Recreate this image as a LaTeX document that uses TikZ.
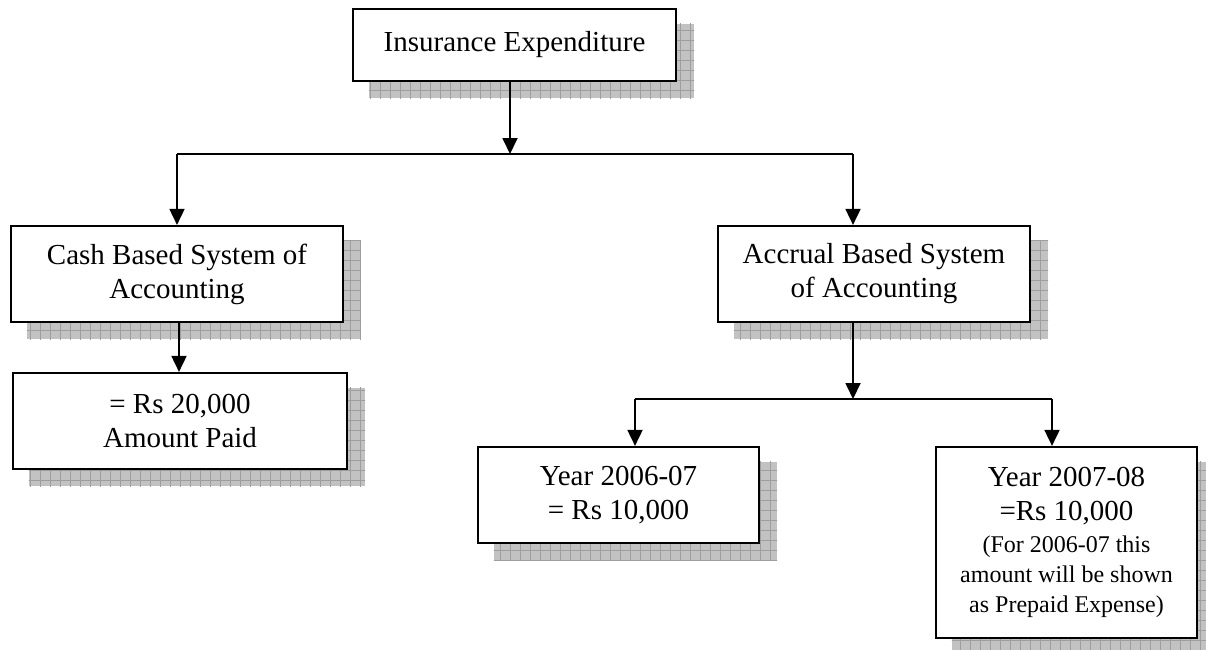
\documentclass[tikz,border=0pt]{standalone}
\usepackage{fontspec}
\setmainfont{Liberation Serif}
\usetikzlibrary{arrows.meta,backgrounds,calc}
\newcommand{\bigf}{\fontsize{29}{34}\selectfont}
\newcommand{\smallf}{\fontsize{24}{28}\selectfont}
\newcommand{\boxshadow}[1]{%
  \fill[black!24] ([shift={(17pt,-16pt)}]#1.south west) rectangle ([shift={(17pt,-16pt)}]#1.north east);
  \begin{scope}
    \clip ([shift={(17pt,-16pt)}]#1.south west) rectangle ([shift={(17pt,-16pt)}]#1.north east);
    \draw[black!38,line width=0.7pt,step=10pt] ([shift={(7pt,-26pt)}]#1.south west) grid ([shift={(27pt,-6pt)}]#1.north east);
  \end{scope}}
\tikzset{
  flowbox/.style={draw=black,line width=2.2pt,fill=white,inner sep=0pt,align=center,font=\bigf},
  conn/.style={line width=1.8pt,draw=black},
  arr/.style={conn,-{Triangle[width=15pt,length=16pt]}}
}
\begin{document}
\begin{tikzpicture}[x=1pt,y=-1pt]
\useasboundingbox (0,0) rectangle (1206,649);
\node[flowbox,minimum width=323pt,minimum height=72pt] (b1) at (514.5,45) {Insurance Expenditure};
\node[flowbox,minimum width=332pt,minimum height=96pt] (b2) at (177,274) {Cash Based System of\\Accounting};
\node[flowbox,minimum width=312pt,minimum height=96pt] (b3) at (874,274) {Accrual Based System\\of Accounting};
\node[flowbox,minimum width=334pt,minimum height=96pt] (b4) at (180,421) {= Rs 20,000\\Amount Paid};
\node[flowbox,minimum width=281pt,minimum height=96pt] (b5) at (618.5,495) {Year 2006-07\\= Rs 10,000};
\node[flowbox,minimum width=261pt,minimum height=191pt] (b6) at (1066.5,542.5) {Year 2007-08\\=Rs 10,000\\[-2pt]\smallf (For 2006-07 this\\[-4pt]\smallf amount will be shown\\[-4pt]\smallf as Prepaid Expense)};
\begin{scope}[on background layer]
  \boxshadow{b1}
  \boxshadow{b2}
  \boxshadow{b3}
  \boxshadow{b4}
  \boxshadow{b5}
  \boxshadow{b6}
\end{scope}
\coordinate (j1) at (510,154);
\coordinate (l1) at (177,154);
\coordinate (r1) at (853,154);
\coordinate (j2) at (853,399);
\coordinate (l2) at (635,399);
\coordinate (r2) at (1052,399);
\draw[arr] (b1.south -| j1) -- (j1);
\draw[conn] (l1) -- (r1);
\draw[arr] (l1) -- (b2.north -| l1);
\draw[arr] (r1) -- (b3.north -| r1);
\draw[arr] (b2.south -| 179,0) -- (b4.north -| 179,0);
\draw[arr] (b3.south -| j2) -- (j2);
\draw[conn] (l2) -- (r2);
\draw[arr] (l2) -- (b5.north -| l2);
\draw[arr] (r2) -- (b6.north -| r2);
\end{tikzpicture}
\end{document}
